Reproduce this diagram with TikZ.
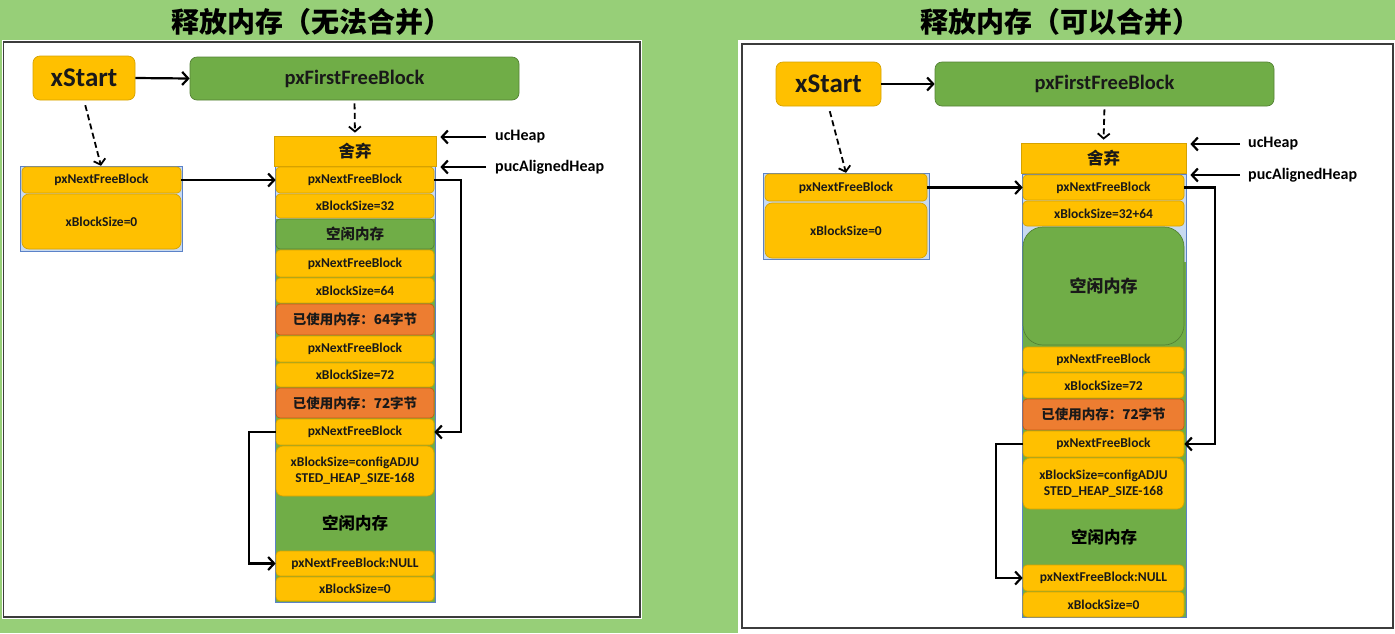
\documentclass[tikz,border=0pt]{standalone}
\usepackage{fontspec}
\setmainfont{Carlito}
\newfontfamily\cjk{Noto Sans CJK SC}
\usetikzlibrary{arrows.meta}
\definecolor{bggreen}{RGB}{151,207,120}
\definecolor{gold}{RGB}{255,192,0}
\definecolor{golddk}{RGB}{214,162,0}
\definecolor{grn}{RGB}{112,173,71}
\definecolor{grndk}{RGB}{84,130,53}
\definecolor{org}{RGB}{237,125,49}
\definecolor{orgdk}{RGB}{197,90,17}
\definecolor{lblue}{RGB}{200,218,240}
\definecolor{bline}{RGB}{91,130,200}
\definecolor{frame}{RGB}{60,60,60}
\tikzset{
  cell/.style={rounded corners=4pt, draw=golddk, fill=gold, line width=0.7pt, inner sep=0pt,
    font=\fontsize{13.5}{16}\selectfont\bfseries, align=center, text=black!90},
  gcell/.style={cell, draw=grndk, fill=grn},
  ocell/.style={cell, draw=orgdk, fill=org},
  sqcell/.style={cell, rounded corners=0pt},
  bigcell/.style={cell, rounded corners=7pt, font=\fontsize{27}{30}\selectfont\bfseries},
  topcell/.style={gcell, rounded corners=7pt, font=\fontsize{20.5}{24}\selectfont\bfseries},
  lbl/.style={anchor=west, inner sep=0pt, font=\fontsize{16}{18}\selectfont\bfseries},
  ttl/.style={inner sep=0pt, font=\cjk\bfseries\fontsize{28}{30}\selectfont},
  plain/.style={inner sep=0pt, font=\cjk\bfseries\fontsize{16.5}{18}\selectfont},
  arr/.style={line width=2.2pt, -{Straight Barb[length=6pt,width=13pt]}},
  darr/.style={line width=1.8pt, dashed, dash pattern=on 6pt off 3.5pt, -{Straight Barb[length=5pt,width=12pt]}},
}
\newcommand\blk[7]{\node[#2, minimum width={#5pt-#3pt}, minimum height={#6pt-#4pt}] (#1) at ({(#3+#5)/2},{(#4+#6)/2}) {#7};}
\newcommand\zh[1]{{\cjk\bfseries #1}}
\newcommand\zhs[1]{{\cjk\bfseries\fontsize{14.5}{16}\selectfont #1}}
\newcommand\zhb[1]{{\cjk\bfseries\fontsize{16.5}{18}\selectfont #1}}
\begin{document}
\begin{tikzpicture}[x=1pt,y=-1pt]
\useasboundingbox (0,0) rectangle (1395,633);
\fill[bggreen] (0,0) rectangle (1395,633);
% ---------------- left panel ----------------
\fill[white] (1.5,40) rectangle (642,619);
\draw[frame, line width=1.8pt] (3.5,42) rectangle (640,617);
\node[ttl] (tL) at (311,22) {释放内存（无法合并）};
\blk{xsL}{bigcell}{33}{56}{135}{100}{xStart}
\blk{pfL}{topcell}{190}{57}{519}{100}{pxFirstFreeBlock}
% struct
\filldraw[fill=lblue, draw=bline, line width=0.6pt] (20,166) rectangle (182,251);
\node[inner sep=0pt, minimum width=162pt, minimum height=85pt] (sL) at (101,208.5) {};
\blk{sL1}{cell}{22}{167}{181}{193}{pxNextFreeBlock}
\blk{sL2}{cell, rounded corners=7pt}{22}{194}{181}{249}{xBlockSize=0}
% heap column
\fill[grn] (275,166) rectangle (435,602);
\fill[lblue] (275,166) rectangle (435,219);
\draw[bline, line width=0.6pt] (275,166) rectangle (435,602);
\blk{zqL}{sqcell}{274}{136}{436}{166}{\zhb{舍弃}}
\blk{a1}{cell}{276}{167}{434}{193}{pxNextFreeBlock}
\blk{a2}{cell}{276}{194}{434}{218}{xBlockSize=32}
\blk{a3}{gcell}{276}{219}{434}{249}{\zhs{空闲内存}}
\blk{a4}{cell}{276}{250}{434}{277}{pxNextFreeBlock}
\blk{a5}{cell}{276}{278}{434}{303}{xBlockSize=64}
\blk{a6}{ocell}{276}{304}{434}{335}{\zh{已使用内存：64字节}}
\blk{a7}{cell}{276}{336}{434}{362}{pxNextFreeBlock}
\blk{a8}{cell}{276}{363}{434}{387}{xBlockSize=72}
\blk{a9}{ocell}{276}{388}{434}{418}{\zh{已使用内存：72字节}}
\blk{a10}{cell}{276}{419}{434}{445}{pxNextFreeBlock}
\blk{a11}{cell, rounded corners=7pt}{276}{446}{434}{496}{xBlockSize=configADJU\\STED\_HEAP\_SIZE-168}
\node[plain] (a12) at (355,523) {空闲内存};
\blk{a13}{cell}{276}{551}{434}{576}{pxNextFreeBlock:NULL}
\blk{a14}{cell}{276}{577}{434}{601}{xBlockSize=0}
\node[lbl] (ucL) at (495,137) {ucHeap};
\node[lbl] (pucL) at (495,167) {pucAlignedHeap};
% connectors left
\draw[arr] (xsL.east) -- (pfL.west);
\draw[darr, shorten <=5pt] (xsL.south) -- (sL.north);
\draw[darr, shorten <=3pt, shorten >=3pt] (pfL.south) -- (zqL.north);
\draw[arr, shorten <=9pt, shorten >=4pt] (ucL.west) -- (ucL.west -| zqL.east);
\draw[arr, shorten <=9pt, shorten >=4pt] (pucL.west) -- (pucL.west -| zqL.east);
\draw[arr] (sL1.east) -- (a1.west);
\draw[arr] (a1.east) -- ++(27,0) |- (a10.east);
\draw[arr] (a10.west) -- ++(-27,0) |- (a13.west);
% ---------------- right panel ----------------
\fill[white] (738,40) rectangle (1395,633);
\draw[frame, line width=1.8pt] (742,44) rectangle (1393,628);
\node[ttl] (tR) at (1060,22) {释放内存（可以合并）};
\blk{xsR}{bigcell}{776}{62}{881}{106}{xStart}
\blk{pfR}{topcell}{935}{62}{1274}{106}{pxFirstFreeBlock}
\filldraw[fill=lblue, draw=bline, line width=0.6pt] (763,173) rectangle (929,259);
\node[inner sep=0pt, minimum width=166pt, minimum height=86pt] (sR) at (846,216) {};
\blk{sR1}{cell}{765}{174}{927}{201}{pxNextFreeBlock}
\blk{sR2}{cell, rounded corners=7pt}{765}{203}{927}{258}{xBlockSize=0}
\fill[grn] (1022,174) rectangle (1186,617);
\fill[lblue] (1022,174) rectangle (1186,262);
\draw[bline, line width=0.6pt] (1022,174) rectangle (1186,617);
\blk{zqR}{sqcell}{1021}{143}{1186}{173}{\zhb{舍弃}}
\blk{b1}{cell}{1023}{175}{1184}{200}{pxNextFreeBlock}
\blk{b2}{cell}{1023}{201}{1184}{226}{xBlockSize=32+64}
\blk{b3}{gcell, rounded corners=20pt, font=\cjk\bfseries\fontsize{17}{20}\selectfont}{1023}{227}{1184}{345}{空闲内存}
\blk{b4}{cell}{1023}{347}{1184}{372}{pxNextFreeBlock}
\blk{b5}{cell}{1023}{373}{1184}{398}{xBlockSize=72}
\blk{b6}{ocell}{1023}{399}{1184}{430}{\zh{已使用内存：72字节}}
\blk{b7}{cell}{1023}{431}{1184}{457}{pxNextFreeBlock}
\blk{b8}{cell, rounded corners=7pt}{1023}{458}{1184}{509}{xBlockSize=configADJU\\STED\_HEAP\_SIZE-168}
\node[plain] (b9) at (1104,537) {空闲内存};
\blk{b10}{cell}{1023}{565}{1184}{591}{pxNextFreeBlock:NULL}
\blk{b11}{cell}{1023}{592}{1184}{617}{xBlockSize=0}
\node[lbl] (ucR) at (1248,144) {ucHeap};
\node[lbl] (pucR) at (1248,175) {pucAlignedHeap};
\draw[arr] (xsR.east) -- (pfR.west);
\draw[darr, shorten <=5pt] (xsR.south) -- (sR.north);
\draw[darr, shorten <=3pt, shorten >=3pt] (pfR.south) -- (zqR.north);
\draw[arr, shorten <=8pt, shorten >=4pt] (ucR.west) -- (ucR.west -| zqR.east);
\draw[arr, shorten <=8pt, shorten >=4pt] (pucR.west) -- (pucR.west -| zqR.east);
\draw[arr] (sR1.east) -- (b1.west);
\draw[arr] (b1.east) -- ++(31,0) |- (b7.east);
\draw[arr] (b7.west) -- ++(-27,0) |- (b10.west);
\end{tikzpicture}
\end{document}
